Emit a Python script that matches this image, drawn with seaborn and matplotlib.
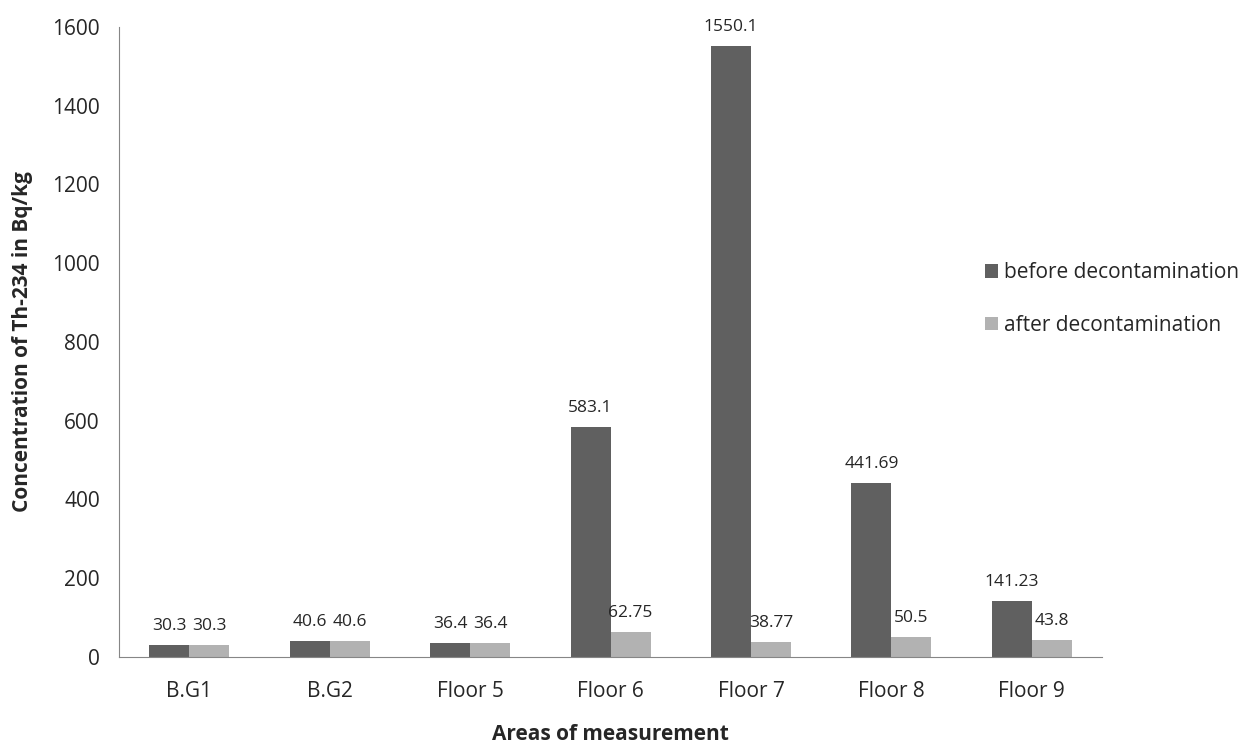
import matplotlib
matplotlib.use("Agg")
import matplotlib.pyplot as plt
import pandas as pd
import seaborn as sns

# Datos
areas = ["B.G1", "B.G2", "Floor 5", "Floor 6", "Floor 7", "Floor 8", "Floor 9"]
before = [30.3, 40.6, 36.4, 583.1, 1550.1, 441.69, 141.23]
after = [30.3, 40.6, 36.4, 62.75, 38.77, 50.5, 43.8]
before_labels = ["30.3", "40.6", "36.4", "583.1", "1550.1", "441.69", "141.23"]
after_labels = ["30.3", "40.6", "36.4", "62.75", "38.77", "50.5", "43.8"]
series = ["before decontamination", "after decontamination"]

df = pd.DataFrame({
    "area": areas * 2,
    "value": before + after,
    "serie": [series[0]] * len(areas) + [series[1]] * len(areas),
})

sns.set_style("white")
plt.rcParams["font.family"] = ["Open Sans", "DejaVu Sans"]
text_color = "#262626"

fig = plt.figure(figsize=(12.55, 7.44), dpi=100)
ax = fig.add_axes([0.095, 0.117, 0.783, 0.847])

sns.barplot(data=df, x="area", y="value", hue="serie", hue_order=series,
            palette=["#606060", "#b2b2b2"], width=0.57, saturation=1,
            edgecolor="none", ax=ax)

# Etiquetas de valores
for cont, labels in zip(ax.containers, [before_labels, after_labels]):
    ax.bar_label(cont, labels=labels, padding=8, fontsize=12.5, color=text_color)

ax.set_ylim(0, 1600)
ax.set_yticks(range(0, 1601, 200))
ax.set_xlim(-0.5, len(areas) - 0.5)

# Ticks del eje x entre categorías
ax.set_xticks([i + 0.5 for i in range(-1, len(areas))], minor=True)
ax.tick_params(axis="x", which="minor", length=10, color="#868686", width=1, direction="out")
ax.tick_params(axis="x", which="major", length=0, pad=17, labelsize=15, labelcolor=text_color)
ax.tick_params(axis="y", length=6, color="#868686", width=1, direction="out", pad=8,
               labelsize=15, labelcolor=text_color)

for s in ["top", "right"]:
    ax.spines[s].set_visible(False)
for s in ["left", "bottom"]:
    ax.spines[s].set_color("#868686")

ax.set_xlabel("Areas of measurement", fontsize=15, fontweight="bold", color=text_color, labelpad=16)
ax.set_ylabel("Concentration of Th-234 in Bq/kg", fontsize=15, fontweight="bold", color=text_color, labelpad=14)

ax.legend(loc="center left", bbox_to_anchor=(0.862, 0.568), frameon=False, fontsize=15,
          handlelength=0.6, handleheight=0.6, handletextpad=0.3, labelspacing=1.5,
          labelcolor=text_color)

fig.savefig("out.png", dpi=100)
